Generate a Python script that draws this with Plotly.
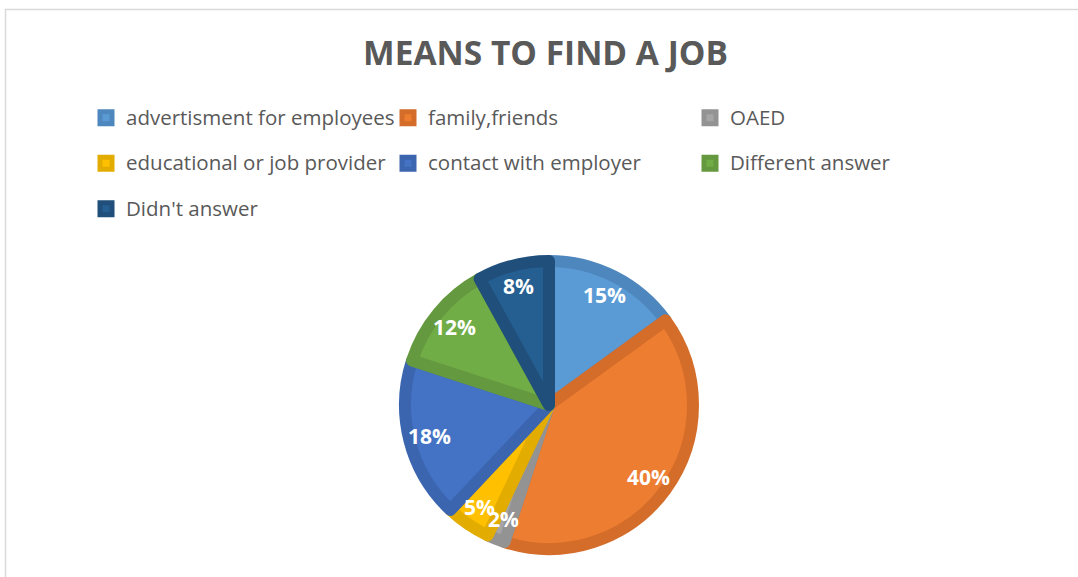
import math
import plotly.graph_objects as go

# Survey answers: how respondents found their job
categories = [
    "advertisment for employees",
    "family,friends",
    "OAED",
    "educational or job provider",
    "contact with employer",
    "Different answer",
    "Didn't answer",
]
shares = [15, 40, 2, 5, 18, 12, 8]

fill_colors = ["#5B9BD5", "#ED7D31", "#A5A5A5", "#FFC000", "#4472C4", "#70AD47", "#255E91"]
edge_colors = ["#4E87BD", "#D46D2A", "#939393", "#E3AC00", "#3C65AF", "#65993F", "#1F4F7A"]

W, H = 1078, 577
FONT = "Open Sans"
TEXT_GREY = "#595959"

# pie placement in pixels; the edge stroke adds half its width outside
cx, cy, outer = 549, 405, 150
edge_w = 12
rad = outer - edge_w / 2
dom_x = [(cx - rad) / W, (cx + rad) / W]
dom_y = [1 - (cy + rad) / H, 1 - (cy - rad) / H]

# legend rows are spaced by the legend font; the visible text is set smaller
legend_labels = [
    f"<span style='font-size:20.5px;baseline-shift:6px'>{c}</span>" for c in categories
]

fig = go.Figure(
    go.Pie(
        labels=legend_labels,
        values=shares,
        sort=False,
        direction="clockwise",
        rotation=0,
        textinfo="none",
        marker=dict(colors=fill_colors, line=dict(color=edge_colors, width=edge_w)),
        domain=dict(x=dom_x, y=dom_y),
        hoverinfo="percent",
    )
)

# percentage labels on each slice's bisector, drawn above all slices
total = sum(shares)
label_r = 0.82 * outer
annotations = []
start = 0.0
for v in shares:
    mid = 2 * math.pi * (start + v / 2) / total
    start += v
    px = cx + label_r * math.sin(mid)
    py = cy - label_r * math.cos(mid)
    annotations.append(
        dict(
            x=px / W,
            y=1 - py / H,
            xref="paper",
            yref="paper",
            text=f"<b>{round(100 * v / total)}%</b>",
            showarrow=False,
            xanchor="center",
            yanchor="middle",
            font=dict(family=FONT, size=21, color="white"),
        )
    )

fig.update_layout(
    width=W,
    height=H,
    margin=dict(l=0, r=0, t=0, b=0, autoexpand=False),
    paper_bgcolor="white",
    plot_bgcolor="white",
    title=dict(
        text="<b>MEANS TO FIND A JOB</b>",
        x=545.5 / W,
        xanchor="center",
        y=1 - 53.5 / H,
        yanchor="middle",
        font=dict(family=FONT, size=33.5, color=TEXT_GREY),
    ),
    legend=dict(
        orientation="h",
        x=86 / W,
        xanchor="left",
        y=1 - 90 / H,
        yanchor="top",
        entrywidth=257,
        entrywidthmode="pixels",
        font=dict(family=FONT, size=32.7, color=TEXT_GREY),
        bgcolor="rgba(0,0,0,0)",
    ),
    showlegend=True,
    annotations=annotations,
    shapes=[
        dict(
            type="rect",
            xref="paper",
            yref="paper",
            x0=5.5 / W,
            x1=1.05,
            y0=-0.1,
            y1=1 - 9.5 / H,
            line=dict(color="#D9D9D9", width=1.5),
            fillcolor="rgba(0,0,0,0)",
            layer="below",
        )
    ],
)

fig.write_html("out.html")
